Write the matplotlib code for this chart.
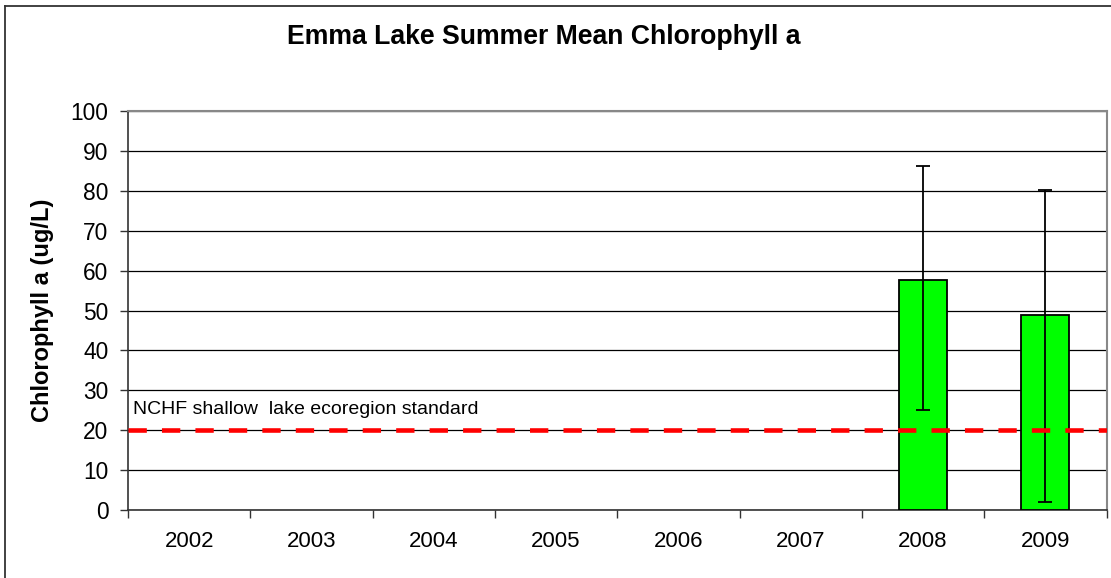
import numpy as np
import matplotlib.pyplot as plt
from matplotlib.lines import Line2D

years = ["2002", "2003", "2004", "2005", "2006", "2007", "2008", "2009"]
chl_mean = [0, 0, 0, 0, 0, 0, 57.6, 48.8]
err_low = [None, None, None, None, None, None, 25.0, 2.0]
err_high = [None, None, None, None, None, None, 86.2, 80.2]
standard = 20
standard_label = "NCHF shallow  lake ecoregion standard"

plt.rcParams['font.family'] = ['Liberation Sans', 'DejaVu Sans']

W, H = 1111, 578
fig = plt.figure(figsize=(W / 100, H / 100), dpi=100)
ax = fig.add_axes([128 / W, (H - 510) / H, (1106.5 - 128) / W, (510 - 111) / H])

x = np.arange(len(years))
idx = [i for i in range(len(years)) if err_low[i] is not None]
ax.bar([x[i] for i in idx], [chl_mean[i] for i in idx], width=0.39,
       color="#00ff00", edgecolor="black", linewidth=1.3, zorder=3)
means = np.array([chl_mean[i] for i in idx])
lo = means - np.array([err_low[i] for i in idx])
hi = np.array([err_high[i] for i in idx]) - means
ax.errorbar([x[i] for i in idx], means, yerr=[lo, hi], fmt="none",
            ecolor="black", elinewidth=1.3, capsize=5, capthick=1.3, zorder=4)

ax.axhline(standard, color="#ff0000", linewidth=3.3, dashes=(4, 3.3), zorder=5)
ax.text(-0.46, standard + 3, standard_label, fontsize=14, ha="left", va="bottom")

ax.set_xlim(-0.5, len(years) - 0.5)
ax.set_ylim(0, 100)
ax.set_yticks(np.arange(0, 101, 10))
ax.yaxis.grid(True, color="black", linewidth=0.9, zorder=0)
ax.set_axisbelow(True)
ax.set_xticks(x)
ax.set_xticklabels(years)
ax.set_xticks(np.arange(-0.5, len(years), 1.0), minor=True)
ax.tick_params(axis="x", which="major", length=0, pad=15, labelsize=16)
ax.tick_params(axis="x", which="minor", length=6, width=1, color="#333333", direction="out")
ax.tick_params(axis="y", length=6, width=1, color="#333333", pad=8, labelsize=16.4)
for s in ["left", "bottom"]:
    ax.spines[s].set_color("#333333")
    ax.spines[s].set_linewidth(1.2)
for s in ["top", "right"]:
    ax.spines[s].set_color("#888888")
    ax.spines[s].set_linewidth(1.5)

ax.set_ylabel("Chlorophyll a (ug/L)", fontsize=17, fontweight="bold", labelpad=12)
fig.text(543.5 / W, 1 - 37 / H, "Emma Lake Summer Mean Chlorophyll a",
         fontsize=19.2, fontweight="bold", ha="center", va="center")

# outer chart border (left and top visible)
fig.add_artist(Line2D([4.5 / W, 4.5 / W], [0, 1 - 6 / H], color="#333333", linewidth=1.3))
fig.add_artist(Line2D([4.5 / W, 1], [1 - 6 / H, 1 - 6 / H], color="#333333", linewidth=1.3))

fig.savefig("out.png", dpi=100)
